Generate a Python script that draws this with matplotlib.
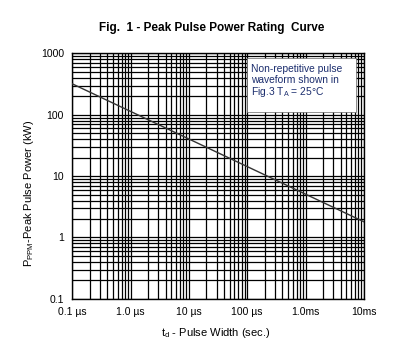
import matplotlib.pyplot as plt
from matplotlib.patches import Rectangle
from matplotlib.ticker import LogLocator, NullFormatter, FixedLocator, FixedFormatter

plt.rcParams["font.family"] = ["Liberation Sans", "DejaVu Sans"]

# curve end points: pulse width (s) vs peak pulse power (kW)
pulse_width = [1e-7, 1e-2]
peak_power = [320, 1.8]

x_ticks = [1e-7, 1e-6, 1e-5, 1e-4, 1e-3, 1e-2]
x_labels = ["0.1 µs", "1.0 µs", "10 µs", "100 µs", "1.0ms", "10ms"]
y_ticks = [0.1, 1, 10, 100, 1000]
y_labels = ["0.1", "1", "10", "100", "1000"]

fig = plt.figure(figsize=(4.08, 3.54), dpi=100)
ax = fig.add_axes([0.177, 0.156, 0.715, 0.693])
ax.set_xscale("log")
ax.set_yscale("log")
ax.set_xlim(1e-7, 1e-2)
ax.set_ylim(0.1, 1000)

ax.xaxis.set_major_locator(FixedLocator(x_ticks))
ax.xaxis.set_major_formatter(FixedFormatter(x_labels))
ax.yaxis.set_major_locator(FixedLocator(y_ticks))
ax.yaxis.set_major_formatter(FixedFormatter(y_labels))
for axis in (ax.xaxis, ax.yaxis):
    axis.set_minor_locator(LogLocator(base=10, subs=range(2, 10), numticks=20))
    axis.set_minor_formatter(NullFormatter())

ax.grid(True, which="both", color="black", lw=0.9)
ax.tick_params(which="both", length=0, labelsize=7.5, pad=6)
for s in ax.spines.values():
    s.set_color("black")
    s.set_linewidth(1.0)

ax.plot(pulse_width, peak_power, color="#333333", lw=1.0, zorder=3)

# note box
ax.add_patch(Rectangle((0.599, 0.761), 0.374, 0.22, transform=ax.transAxes,
                       facecolor="white", edgecolor="#666666", lw=0.5, zorder=4))
ax.text(0.612, 0.955,
        "Non-repetitive pulse\nwaveform shown in\nFig.3 T$\\mathregular{_A}$ = 25°C",
        transform=ax.transAxes, ha="left", va="top", fontsize=7.4,
        color="#1c2e6e", linespacing=1.05, zorder=5)

ax.set_xlabel("t$\\mathregular{_d}$ - Pulse Width (sec.)", fontsize=8)
ax.xaxis.set_label_coords(0.49, -0.112)
ax.set_ylabel("P$\\mathregular{_{PPM}}$-Peak Pulse Power (kW)", fontsize=8)
ax.yaxis.set_label_coords(-0.125, 0.43)
fig.text(0.52, 0.92, "Fig.  1 - Peak Pulse Power Rating  Curve",
         ha="center", va="center", fontsize=8.5, fontweight="bold")

fig.savefig("out.png", dpi=100)
